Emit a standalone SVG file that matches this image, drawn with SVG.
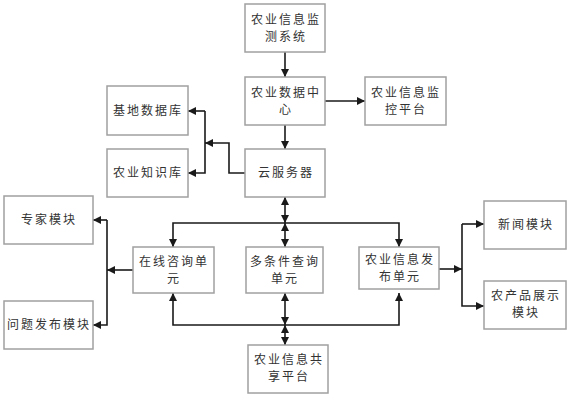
<svg xmlns="http://www.w3.org/2000/svg" width="571" height="400" viewBox="0 0 571 400">
<defs>
<marker id="ah" markerWidth="8" markerHeight="8" refX="8" refY="4" orient="auto-start-reverse" markerUnits="userSpaceOnUse">
<path d="M0,0 L8,4 L0,8 Z" fill="#1a1a1a"/>
</marker>
<style>
.box{fill:#fff;stroke:#a0a0a0;stroke-width:1.5}
.t{font-family:"Noto Sans CJK SC","Noto Sans",sans-serif;font-size:12px;fill:#333;text-anchor:middle;letter-spacing:2px}
.c{fill:none;stroke:#1a1a1a;stroke-width:1.6}
</style>
</defs>
<rect width="571" height="400" fill="#fff"/>
<g id="connectors">
<path class="c" d="M285,52 V77" marker-end="url(#ah)"/>
<path class="c" d="M285,125 V149" marker-end="url(#ah)"/>
<path class="c" d="M325,101 H365" marker-end="url(#ah)"/>
<path class="c" d="M245,173 H229 V143 H205" marker-end="url(#ah)"/>
<path class="c" d="M205,111 H188" marker-end="url(#ah)"/>
<path class="c" d="M205,111 V173 H188" marker-end="url(#ah)"/>
<path class="c" d="M285,197 V223" marker-start="url(#ah)" marker-end="url(#ah)"/>
<path class="c" d="M285,223 V247" marker-start="url(#ah)" marker-end="url(#ah)"/>
<path class="c" d="M173,247 V223 H399 V247" marker-start="url(#ah)" marker-end="url(#ah)"/>
<path class="c" d="M285,293 V325" marker-start="url(#ah)" marker-end="url(#ah)"/>
<path class="c" d="M285,325 V345" marker-start="url(#ah)" marker-end="url(#ah)"/>
<path class="c" d="M173,293 V325 H399 V293" marker-start="url(#ah)" marker-end="url(#ah)"/>
<path class="c" d="M133,270 H107" marker-end="url(#ah)"/>
<path class="c" d="M107,220 H93" marker-end="url(#ah)"/>
<path class="c" d="M107,220 V325 H93" marker-end="url(#ah)"/>
<path class="c" d="M439,269 H462" marker-end="url(#ah)"/>
<path class="c" d="M462,224 H484" marker-end="url(#ah)"/>
<path class="c" d="M484,306 H462 V224" marker-start="url(#ah)"/>
</g>
<g id="n-monitor-sys"><rect class="box" x="245" y="4" width="80" height="48"/><text class="t" x="286" y="24">农业信息监</text><text class="t" x="286" y="41">测系统</text></g>
<g id="n-data-center"><rect class="box" x="245" y="77" width="80" height="48"/><text class="t" x="286" y="97">农业数据中</text><text class="t" x="286" y="114">心</text></g>
<g id="n-monitor-plat"><rect class="box" x="365" y="77" width="81" height="48"/><text class="t" x="406" y="97">农业信息监</text><text class="t" x="406" y="114">控平台</text></g>
<g id="n-cloud"><rect class="box" x="245" y="149" width="80" height="48"/><text class="t" x="286" y="177">云服务器</text></g>
<g id="n-basedb"><rect class="box" x="107" y="86" width="81" height="49"/><text class="t" x="148" y="115">基地数据库</text></g>
<g id="n-knowdb"><rect class="box" x="107" y="149" width="81" height="48"/><text class="t" x="148" y="177">农业知识库</text></g>
<g id="n-expert"><rect class="box" x="4" y="196" width="89" height="48"/><text class="t" x="49" y="224">专家模块</text></g>
<g id="n-question"><rect class="box" x="4" y="301" width="89" height="48"/><text class="t" x="49" y="329">问题发布模块</text></g>
<g id="n-consult"><rect class="box" x="133" y="247" width="81" height="46"/><text class="t" x="174" y="266">在线咨询单</text><text class="t" x="174" y="283">元</text></g>
<g id="n-query"><rect class="box" x="246" y="247" width="77" height="46"/><text class="t" x="285" y="266">多条件查询</text><text class="t" x="285" y="283">单元</text></g>
<g id="n-publish"><rect class="box" x="359" y="247" width="80" height="42"/><text class="t" x="400" y="264">农业信息发</text><text class="t" x="400" y="281">布单元</text></g>
<g id="n-share"><rect class="box" x="248" y="345" width="80" height="48"/><text class="t" x="289" y="364">农业信息共</text><text class="t" x="289" y="381">享平台</text></g>
<g id="n-news"><rect class="box" x="484" y="201" width="82" height="48"/><text class="t" x="526" y="229">新闻模块</text></g>
<g id="n-products"><rect class="box" x="484" y="281" width="82" height="48"/><text class="t" x="526" y="300">农产品展示</text><text class="t" x="526" y="317">模块</text></g>
</svg>
